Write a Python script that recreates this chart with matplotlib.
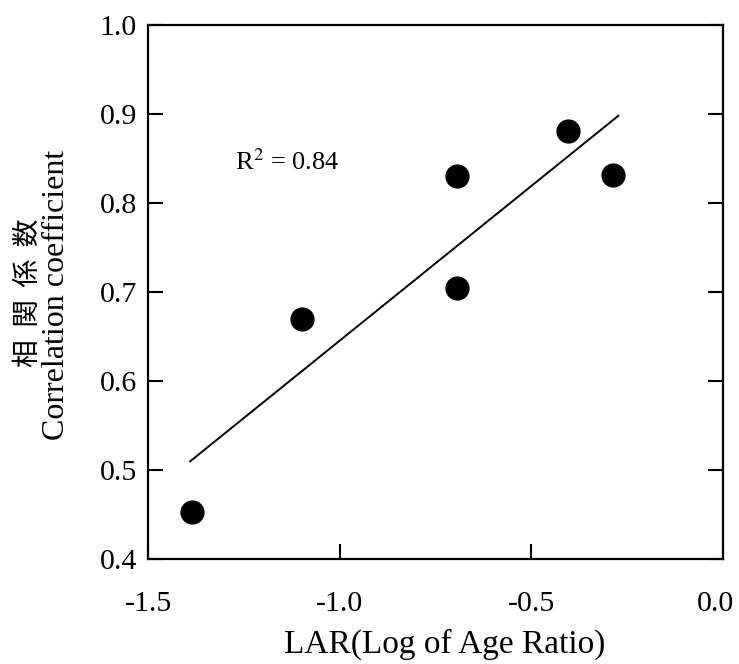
import matplotlib
matplotlib.use("Agg")
import matplotlib.pyplot as plt
import matplotlib.transforms as mtransforms
import numpy as np

# Data
lar = [-1.386, -1.099, -0.693, -0.693, -0.405, -0.288]
corr = [0.453, 0.670, 0.830, 0.705, 0.881, 0.832]
line_x = [-1.39, -0.273]
r2_text = "R$^{2}$ = 0.84"
x_ticks = [-1.5, -1.0, -0.5, 0.0]
y_ticks = [0.4, 0.5, 0.6, 0.7, 0.8, 0.9, 1.0]

plt.rcParams['font.family'] = ['Liberation Serif', 'Noto Sans CJK JP', 'DejaVu Sans']
plt.rcParams['mathtext.fontset'] = 'stix'

W, H = 739, 664
fig = plt.figure(figsize=(W / 100, H / 100), dpi=100)
ax = fig.add_axes([148 / W, 1 - 559 / H, (723 - 148) / W, (559 - 25) / H])

ax.scatter(lar, corr, s=270, color='black', zorder=3)
slope, intercept = np.polyfit(lar, corr, 1)
lx = np.array(line_x)
ax.plot(lx, slope * lx + intercept, color='black', lw=1.4)

ax.text(-1.273, 0.846, r2_text, fontsize=19, va='center', ha='left')

ax.set_xlim(-1.5, 0.0)
ax.set_ylim(0.4, 1.0)
ax.set_xticks(x_ticks)
ax.set_xticklabels([f"{v:.1f}" for v in x_ticks])
ax.set_yticks(y_ticks)
ax.set_yticklabels([f"{v:.1f}" for v in y_ticks])
ax.tick_params(axis='both', direction='in', length=11, width=1.5, labelsize=21.5)
ax.tick_params(axis='y', right=True, pad=8)
ax.tick_params(axis='x', top=False, pad=23)
for sp in ax.spines.values():
    sp.set_linewidth(1.6)

# nudge the last x tick label inward so it stays inside the figure
last = ax.get_xticklabels()[-1]
last.set_transform(last.get_transform() +
                   mtransforms.ScaledTranslation(-8 / 100, 0, fig.dpi_scale_trans))

fig.text(445 / W, 1 - 653 / H, "LAR(Log of Age Ratio)", fontsize=24,
         ha='center', va='baseline')
fig.text(57 / W, 1 - 295 / H, "Correlation coefficient", fontsize=23,
         rotation=90, ha='center', va='center')
fig.text(28 / W, 1 - 293 / H, "相  関  係  数", fontsize=20,
         family=['Noto Sans CJK JP', 'DejaVu Sans'],
         rotation=90, ha='center', va='center')

fig.savefig("out.png", dpi=100)
